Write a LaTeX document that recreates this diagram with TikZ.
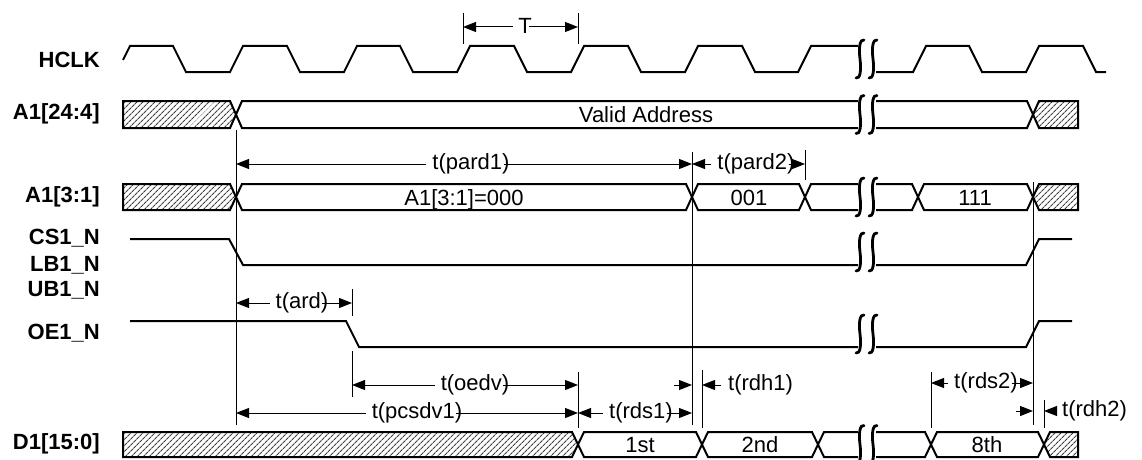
\documentclass[tikz,border=0pt]{standalone}
\usepackage{fontspec}
\setmainfont{Liberation Sans}
\usetikzlibrary{arrows.meta,patterns.meta}
\begin{document}
\begin{tikzpicture}[x=1pt,y=-1pt,
  sig/.style={line width=2pt, line join=miter},
  thinline/.style={line width=1pt},
  dim/.style={line width=1pt},
  tip/.style={-{Triangle[length=13pt,width=10pt]}},
  hatch/.style={sig, pattern={Lines[angle=45,distance=4pt,line width=1.1pt]}, pattern color=black!75},
  lbl/.style={anchor=east, font=\fontsize{22}{26}\selectfont\bfseries, inner sep=0pt},
  txt/.style={font=\fontsize{22}{26}\selectfont, inner sep=0pt},
  bustxt/.style={font=\fontsize{22}{26}\selectfont, inner sep=0pt, anchor=base, yshift=-8pt},
  brk/.style={line width=2.8pt, line cap=round},
  brkpic/.pic={\draw[brk] (4,-19) .. controls (0,-20) and (-1.5,-12) .. (0,0) .. controls (1.5,12) and (0,20) .. (-4,19);}
]
\useasboundingbox (0,0) rectangle (1142,460);

% ---------- labels ----------
\node[lbl] (lHCLK) at (100,60) {HCLK};
\node[lbl] (lA24) at (100,114) {A1[24:4]};
\node[lbl] (lA3) at (100,197) {A1[3:1]};
\node[lbl] (lCS) at (100,238) {CS1\_N};
\node[lbl] (lLB) at (100,265) {LB1\_N};
\node[lbl] (lUB) at (100,290) {UB1\_N};
\node[lbl] (lOE) at (100,333) {OE1\_N};
\node[lbl] (lD) at (100,444) {D1[15:0]};

% ---------- HCLK ----------
\draw[sig] (123,60) -- (130,46) -- (173,46) -- (186,72) -- (230,72) -- (243,46) -- (287,46) -- (300,72)
  -- (344,72) -- (357,46) -- (400,46) -- (413,72) -- (457,72) -- (470,46) -- (514,46) -- (527,72)
  -- (571,72) -- (584,46) -- (628,46) -- (641,72) -- (685,72) -- (698,46) -- (742,46) -- (755,72)
  -- (798,72) -- (811,46) -- (858,46);
\draw[sig] (876,72) -- (913,72) -- (926,46) -- (969,46) -- (982,72) -- (1026,72) -- (1039,46)
  -- (1083,46) -- (1096,72) -- (1106,72);
\pic at (860,59) {brkpic}; \pic at (873,59) {brkpic};

% ---------- A1[24:4] ----------
\draw[hatch] (123,101) -- (230,101) -- (236,114.5) -- (230,128) -- (123,128) -- cycle;
\draw[sig] (858,101) -- (242,101) -- (236,114.5) -- (242,128) -- (858,128);
\draw[sig] (876,101) -- (1027,101) -- (1033,114.5) -- (1027,128) -- (876,128);
\draw[hatch] (1033,114.5) -- (1039,101) -- (1078,101) -- (1078,128) -- (1039,128) -- cycle;
\node[bustxt] (va) at (646,114.5) {Valid Address};
\pic at (860,114.5) {brkpic}; \pic at (873,114.5) {brkpic};

% ---------- A1[3:1] ----------
\draw[hatch] (123,184) -- (230,184) -- (236,197) -- (230,210) -- (123,210) -- cycle;
\draw[sig] (236,197) -- (242,184) -- (686,184) -- (692,197) -- (686,210) -- (242,210) -- cycle;
\draw[sig] (692,197) -- (698,184) -- (799,184) -- (805,197) -- (799,210) -- (698,210) -- cycle;
\draw[sig] (858,184) -- (811,184) -- (805,197) -- (811,210) -- (858,210);
\draw[sig] (876,184) -- (912,184) -- (918,197) -- (912,210) -- (876,210);
\draw[sig] (918,197) -- (924,184) -- (1027,184) -- (1033,197) -- (1027,210) -- (924,210) -- cycle;
\draw[hatch] (1033,197) -- (1039,184) -- (1078,184) -- (1078,210) -- (1039,210) -- cycle;
\node[bustxt] (a000) at (464,197) {A1[3:1]=000};
\node[bustxt] (a001) at (749,197) {001};
\node[bustxt] (a111) at (975,197) {111};
\pic at (860,197) {brkpic}; \pic at (873,197) {brkpic};

% ---------- CS1_N ----------
\draw[sig] (130,239) -- (229,239) -- (243,265) -- (858,265);
\draw[sig] (876,265) -- (1026,265) -- (1039,239) -- (1072,239);
\pic at (860,252) {brkpic}; \pic at (873,252) {brkpic};

% ---------- OE1_N ----------
\draw[sig] (130,321) -- (346,321) -- (359,347) -- (858,347);
\draw[sig] (876,347) -- (1026,347) -- (1039,321) -- (1072,321);
\pic at (860,334) {brkpic}; \pic at (873,334) {brkpic};

% ---------- D1[15:0] ----------
\draw[hatch] (123,432) -- (572,432) -- (578,444.5) -- (572,457) -- (123,457) -- cycle;
\draw[sig] (578,444.5) -- (584,432) -- (696,432) -- (702,444.5) -- (696,457) -- (584,457) -- cycle;
\draw[sig] (702,444.5) -- (708,432) -- (812,432) -- (818,444.5) -- (812,457) -- (708,457) -- cycle;
\draw[sig] (858,432) -- (824,432) -- (818,444.5) -- (824,457) -- (858,457);
\draw[sig] (876,432) -- (925,432) -- (931,444.5) -- (925,457) -- (876,457);
\draw[sig] (931,444.5) -- (937,432) -- (1038,432) -- (1044,444.5) -- (1038,457) -- (937,457) -- cycle;
\draw[hatch] (1044,444.5) -- (1050,432) -- (1078,432) -- (1078,457) -- (1050,457) -- cycle;
\node[bustxt] (d1st) at (640,444.5) {1st};
\node[bustxt] (d2nd) at (760,444.5) {2nd};
\node[bustxt] (d8th) at (987,444.5) {8th};
\pic at (860,444.5) {brkpic}; \pic at (873,444.5) {brkpic};

% ---------- reference lines ----------
\draw[thinline] (236,130) -- (236,425);
\draw[thinline] (692,152) -- (692,425);
\draw[thinline] (805,150) -- (805,180);
\draw[thinline] (463,13) -- (463,44);
\draw[thinline] (578,13) -- (578,44);
\draw[thinline] (352,289) -- (352,316);
\draw[thinline] (352,351) -- (352,397);
\draw[thinline] (578,372) -- (578,428);
\draw[thinline] (702,370) -- (702,428);
\draw[thinline] (1033,182) -- (1033,425);
\draw[thinline] (931,372) -- (931,428);
\draw[thinline] (1044,400) -- (1044,428);

% ---------- dimension arrows ----------
% T
\coordinate (T1) at (463,27); \coordinate (T2) at (578,27);
\node[txt] (tT) at (525,26) {T};
\draw[dim,tip] ([xshift=-5pt]tT.west |- T1) -- (T1);
\draw[dim,tip] ([xshift=-3pt]tT.east |- T2) -- (T2);
% t(pard1)
\coordinate (P1a) at (236,164); \coordinate (P1b) at (692,164);
\node[txt] (tpard1) at (471,164) {t(pard1)};
\draw[dim,tip] ([xshift=-6pt]tpard1.west |- P1a) -- (P1a);
\draw[dim,tip] ([xshift=-6pt]tpard1.east |- P1b) -- (P1b);
% t(pard2)
\coordinate (P2a) at (692,164); \coordinate (P2b) at (805,164);
\node[txt] (tpard2) at (756,164) {t(pard2)};
\draw[dim,tip] ([xshift=-6pt]tpard2.west |- P2a) -- (P2a);
\draw[dim,tip] ([xshift=-6pt]tpard2.east |- P2b) -- (P2b);
% t(ard)
\coordinate (ARa) at (236,303); \coordinate (ARb) at (352,303);
\node[txt] (tard) at (302,303) {t(ard)};
\draw[dim,tip] ([xshift=-6pt]tard.west |- ARa) -- (ARa);
\draw[dim,tip] ([xshift=-6pt]tard.east |- ARb) -- (ARb);
% t(oedv)
\coordinate (OEa) at (352,385); \coordinate (OEb) at (578,385);
\node[txt] (toedv) at (475,385) {t(oedv)};
\draw[dim,tip] ([xshift=-6pt]toedv.west |- OEa) -- (OEa);
\draw[dim,tip] ([xshift=-6pt]toedv.east |- OEb) -- (OEb);
% t(pcsdv1)
\coordinate (PCa) at (236,413); \coordinate (PCb) at (578,413);
\node[txt] (tpcsdv) at (417,413) {t(pcsdv1)};
\draw[dim,tip] ([xshift=-6pt]tpcsdv.west |- PCa) -- (PCa);
\draw[dim,tip] ([xshift=-6pt]tpcsdv.east |- PCb) -- (PCb);
% t(rds1)
\coordinate (R1a) at (578,413); \coordinate (R1b) at (692,413);
\node[txt] (trds1) at (641,413) {t(rds1)};
\draw[dim,tip] ([xshift=-6pt]trds1.west |- R1a) -- (R1a);
\draw[dim,tip] ([xshift=-6pt]trds1.east |- R1b) -- (R1b);
% t(rdh1)
\coordinate (H1a) at (692,385); \coordinate (H1b) at (702,385);
\coordinate (H1s) at (674,385);
\node[txt, anchor=west] (trdh1) at (728,385) {t(rdh1)};
\draw[dim,tip] (H1s) -- (H1a);
\draw[dim,tip] ([xshift=-7pt]trdh1.west |- H1b) -- (H1b);
% t(rds2)
\coordinate (R2a) at (931,383); \coordinate (R2b) at (1033,383);
\node[txt] (trds2) at (986,383) {t(rds2)};
\draw[dim,tip] ([xshift=-6pt]trds2.west |- R2a) -- (R2a);
\draw[dim,tip] ([xshift=-6pt]trds2.east |- R2b) -- (R2b);
% t(rdh2)
\coordinate (H2a) at (1033,411); \coordinate (H2b) at (1044,411);
\coordinate (H2s) at (1016,411);
\node[txt, anchor=west] (trdh2) at (1062,411) {t(rdh2)};
\draw[dim,tip] (H2s) -- (H2a);
\draw[dim,tip] ([xshift=-7pt]trdh2.west |- H2b) -- (H2b);
\end{tikzpicture}
\end{document}
